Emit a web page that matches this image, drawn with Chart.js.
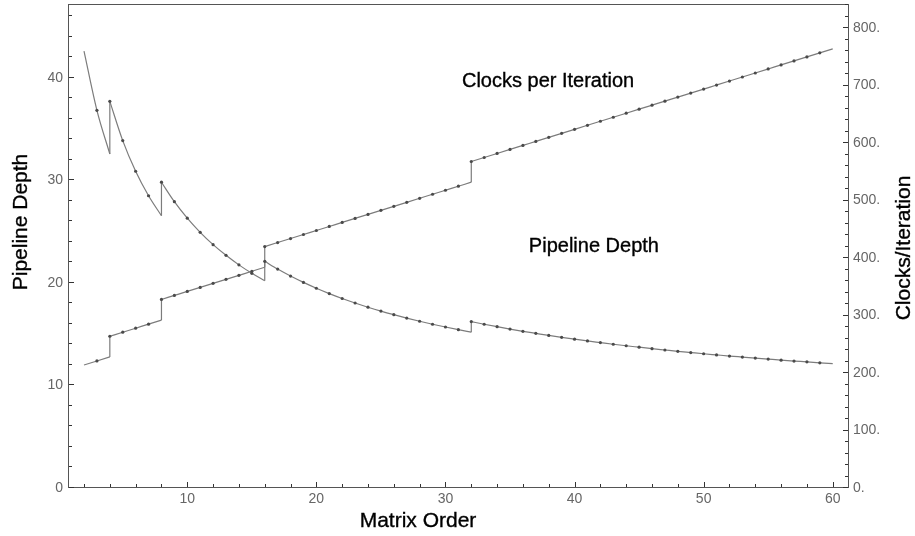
<!DOCTYPE html>
<html>
<head>
<meta charset="utf-8">
<script src="https://cdn.jsdelivr.net/npm/chart.js@4.4.1/dist/chart.umd.min.js"></script>
<style>
  html, body { margin: 0; padding: 0; background: #fff; }
  #wrap { width: 915px; height: 536px; }
</style>
</head>
<body>
<div id="wrap"><canvas id="chart" width="915" height="536"></canvas></div>
<script>
// Matrix orders evaluated
const matrixOrder = [
  2, 3, 4, 5, 6, 7, 8, 9, 10, 11, 12, 13, 14, 15, 16, 17, 18, 19, 20,
  21, 22, 23, 24, 25, 26, 27, 28, 29, 30, 31, 32, 33, 34, 35, 36, 37, 38, 39, 40,
  41, 42, 43, 44, 45, 46, 47, 48, 49, 50, 51, 52, 53, 54, 55, 56, 57, 58, 59, 60
];

// Pipeline depth at each order (left axis)
const pipelineDepth = [
  42.6, 36.83, 37.71, 33.88, 30.89, 28.50, 29.82, 27.92, 26.31, 24.93, 23.73, 22.69, 21.76, 20.94,
  22.11, 21.35, 20.67, 20.05, 19.48, 18.96, 18.48, 18.04, 17.63, 17.25, 16.90, 16.57, 16.26, 15.97,
  15.70, 15.44, 16.23, 15.97, 15.73, 15.50, 15.28, 15.08, 14.88, 14.69, 14.51, 14.34, 14.18, 14.02,
  13.87, 13.73, 13.59, 13.46, 13.33, 13.21, 13.09, 12.98, 12.87, 12.77, 12.67, 12.57, 12.47, 12.38,
  12.30, 12.21, 12.13
];

// Clocks per iteration at each order (right axis)
const clocksPerIteration = [
  214, 221, 264, 271, 278, 285, 328, 335, 342, 349, 356, 363, 370, 377,
  420, 427, 434, 441, 448, 455, 462, 469, 476, 483, 490, 497, 504, 511, 518, 525,
  568, 575, 582, 589, 596, 603, 610, 617, 624, 631, 638, 645, 652, 659, 666, 673,
  680, 687, 694, 701, 708, 715, 722, 729, 736, 743, 750, 757, 764
];

// Orders where both curves step, and the values reached just before each step
const jumpOrders = [4, 8, 16, 32];
const pipelineDepthBeforeJump = [32.57, 26.55, 20.21, 15.20];
const clocksBeforeJump = [228, 292, 384, 532];

// Axis ticks and labels
const orderTicks = [10, 20, 30, 40, 50, 60];
const depthTicks = [0, 10, 20, 30, 40];
const clockTicks = [0, 100, 200, 300, 400, 500, 600, 700, 800];
const clockTickLabels = ['0.', '100.', '200.', '300.', '400.', '500.', '600.', '700.', '800.'];

const FONT = '"Liberation Sans", Arial, Helvetica, sans-serif';
const LINE_COLOR = '#7c7c7c';
const DOT_COLOR = '#4a4a4a';

// Split one series into continuous pieces between the step orders,
// plus a vertical connector at each step.
function buildSeries(values, beforeJump, axisId) {
  const firstOrder = matrixOrder[0];
  const lastOrder = matrixOrder[matrixOrder.length - 1];
  const bounds = [firstOrder, ...jumpOrders, lastOrder + 1];
  const sets = [];
  for (let k = 0; k < bounds.length - 1; k++) {
    const pts = [];
    const radii = [];
    matrixOrder.forEach((n, i) => {
      if (n >= bounds[k] && n < bounds[k + 1]) {
        pts.push({ x: n, y: values[i] });
        radii.push(n === firstOrder || n === lastOrder ? 0 : 1.6);
      }
    });
    if (k < jumpOrders.length) {
      pts.push({ x: jumpOrders[k], y: beforeJump[k] });
      radii.push(0);
    }
    sets.push({
      data: pts,
      yAxisID: axisId,
      showLine: true,
      cubicInterpolationMode: 'monotone',
      borderColor: LINE_COLOR,
      borderWidth: 1.2,
      pointRadius: radii,
      pointBackgroundColor: DOT_COLOR,
      pointBorderWidth: 0,
      pointHoverRadius: 0
    });
  }
  jumpOrders.forEach((n, k) => {
    sets.push({
      data: [{ x: n, y: beforeJump[k] }, { x: n, y: values[matrixOrder.indexOf(n)] }],
      yAxisID: axisId,
      showLine: true,
      tension: 0,
      borderColor: LINE_COLOR,
      borderWidth: 1.2,
      pointRadius: 0,
      pointHoverRadius: 0
    });
  });
  return sets;
}

const datasets = [
  ...buildSeries(pipelineDepth, pipelineDepthBeforeJump, 'y'),
  ...buildSeries(clocksPerIteration, clocksBeforeJump, 'y1')
];

function heavyText(ctx, text, x, y) {
  ctx.fillText(text, x, y);
  ctx.strokeText(text, x, y);
}

// Frame with inward ticks, axis titles and curve captions
const frameAndLabels = {
  id: 'frameAndLabels',
  afterDraw(chart) {
    const { ctx, chartArea: a, scales } = chart;
    const sx = scales.x, sy = scales.y, sy1 = scales.y1;
    ctx.save();

    // frame
    ctx.strokeStyle = '#555';
    ctx.lineWidth = 1;
    ctx.strokeRect(a.left + 0.5, a.top + 0.5, a.right - a.left - 1, a.bottom - a.top - 1);

    // tick marks (inside the frame)
    ctx.strokeStyle = '#333';
    ctx.beginPath();
    const MAJ = 5, MIN = 3;
    for (let v = 2; v <= 60; v += 2) {
      const p = Math.round(sx.getPixelForValue(v)) + 0.5;
      const len = orderTicks.includes(v) ? MAJ : MIN;
      ctx.moveTo(p, a.bottom - 1);
      ctx.lineTo(p, a.bottom - 1 - len);
    }
    for (let v = 0; v <= 46; v += 2) {
      const p = Math.round(sy.getPixelForValue(v)) - 0.5;
      const len = depthTicks.includes(v) ? MAJ : MIN;
      ctx.moveTo(a.left + 1, p);
      ctx.lineTo(a.left + 1 + len, p);
    }
    for (let v = 0; v <= 840; v += 20) {
      const p = Math.round(sy1.getPixelForValue(v)) - 0.5;
      const len = clockTicks.includes(v) ? MAJ : MIN;
      ctx.moveTo(a.right - 1, p);
      ctx.lineTo(a.right - 1 - len, p);
    }
    ctx.stroke();

    // axis titles
    ctx.fillStyle = '#000';
    ctx.strokeStyle = '#000';
    ctx.lineWidth = 0.35;
    ctx.font = '21px ' + FONT;
    ctx.textBaseline = 'alphabetic';
    ctx.textAlign = 'center';
    heavyText(ctx, 'Matrix Order', 418, 527);

    ctx.save();
    ctx.translate(27, 222);
    ctx.rotate(-Math.PI / 2);
    heavyText(ctx, 'Pipeline Depth', 0, 0);
    ctx.restore();

    ctx.save();
    ctx.translate(910, 248);
    ctx.rotate(-Math.PI / 2);
    heavyText(ctx, 'Clocks/Iteration', 0, 0);
    ctx.restore();

    // curve captions, placed in plot coordinates
    ctx.font = '20px ' + FONT;
    heavyText(ctx, 'Clocks per Iteration', sx.getPixelForValue(37.95), sy.getPixelForValue(39.1));
    heavyText(ctx, 'Pipeline Depth', sx.getPixelForValue(41.5), sy.getPixelForValue(23.0));

    ctx.restore();
  }
};

const tickFont = { family: FONT, size: 14 };
const tickColor = '#666';

// Keep the plot frame exactly where the axis bands put it
function fixBand(prop, size) {
  return (s) => {
    s[prop] = size;
    s.paddingTop = 0; s.paddingBottom = 0; s.paddingLeft = 0; s.paddingRight = 0;
  };
}

new Chart(document.getElementById('chart'), {
  type: 'scatter',
  data: { datasets },
  options: {
    responsive: false,
    animation: false,
    events: [],
    layout: { padding: { top: 4, left: 0, right: 0, bottom: 0 } },
    plugins: { legend: { display: false }, tooltip: { enabled: false } },
    scales: {
      x: {
        type: 'linear',
        position: 'bottom',
        min: 0.76,
        max: 61.26,
        grid: { display: false, drawTicks: false },
        border: { display: false },
        afterBuildTicks: (s) => { s.ticks = orderTicks.map((v) => ({ value: v })); },
        afterFit: fixBand('height', 48),
        ticks: { padding: 3, color: tickColor, font: tickFont, maxRotation: 0, autoSkip: false,
                 callback: (v) => String(v) }
      },
      y: {
        type: 'linear',
        position: 'left',
        min: 0,
        max: 47.2,
        grid: { display: false, drawTicks: false },
        border: { display: false },
        afterBuildTicks: (s) => { s.ticks = depthTicks.map((v) => ({ value: v })); },
        afterFit: fixBand('width', 68),
        ticks: { padding: 5, color: tickColor, font: tickFont, autoSkip: false,
                 callback: (v) => String(v) }
      },
      y1: {
        type: 'linear',
        position: 'right',
        min: 0,
        max: 842,
        grid: { display: false, drawTicks: false },
        border: { display: false },
        afterBuildTicks: (s) => { s.ticks = clockTicks.map((v) => ({ value: v })); },
        afterFit: fixBand('width', 66),
        ticks: { padding: 4, color: tickColor, font: tickFont, autoSkip: false,
                 callback: (v) => clockTickLabels[clockTicks.indexOf(v)] }
      }
    }
  },
  plugins: [frameAndLabels]
});
</script>
</body>
</html>
